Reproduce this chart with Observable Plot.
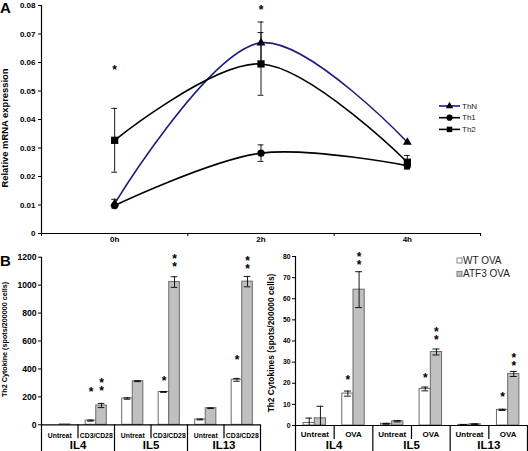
<!DOCTYPE html>
<html><head><meta charset="utf-8">
<script src="https://cdn.jsdelivr.net/npm/d3@7"></script>
<script src="https://cdn.jsdelivr.net/npm/@observablehq/plot@0.6"></script>
<style>
html,body{margin:0;padding:0;background:#fff;}
#wrap{position:relative;width:528px;height:451px;overflow:hidden;font-family:"Liberation Sans",Arial,sans-serif;}
</style></head><body><div id="wrap"></div>
<script>
// ---------- Panel A data ----------
const timepoints = ["0h", "2h", "4h"];
const seriesA = ["ThN", "Th1", "Th2"];
const thN = [0.0105, 0.0669, 0.0320];
const thNErr = [0.0015, 0.0073, 0];
const th1 = [0.0098, 0.0282, 0.0238];
const th1Err = [0, 0.0029, 0.0010];
const th2 = [0.0327, 0.0595, 0.0250];
const th2Err = [0.0112, 0.0110, 0.0024];
const yTicksA = [0, 0.01, 0.02, 0.03, 0.04, 0.05, 0.06, 0.07, 0.08];
const starTimeA = [0, 1];
const starLevelA = [0.0584, 0.0794];

// ---------- Panel B data ----------
const cytokines = ["IL4", "IL5", "IL13"];
const genotypes = ["WT OVA", "ATF3 OVA"];
// left (in vitro)
const treatLeft = ["Untreat", "CD3/CD28"];
const wtLeft = [0, 30, 188, 235, 38, 322];
const wtLeftErr = [0, 4, 5, 3, 3, 10];
const atfLeft = [3, 138, 312, 1022, 119, 1025];
const atfLeftErr = [0, 15, 3, 38, 2, 37];
const yTicksLeft = [0, 200, 400, 600, 800, 1000, 1200];
const starCatLeft = [1, 1, 3, 3, 5, 5];
const starGenoLeft = ["WT", "ATF3", "WT", "ATF3", "WT", "ATF3"];
const starCountLeft = [1, 2, 1, 2, 1, 2];
const starLevelLeft = [248, 279, 325, 1167, 472, 1156];
// right (OVA)
const treatRight = ["Untreat", "OVA"];
const wtRight = [1.2, 15.1, 0.8, 17.3, 0.3, 7.4];
const wtRightErr = [2.3, 1.2, 0.2, 0.9, 0.1, 0.3];
const atfRight = [3.4, 64.3, 2.0, 34.8, 0.6, 24.4];
const atfRightErr = [5.7, 8.5, 0.3, 1.4, 0.2, 1.2];
const yTicksRight = [0, 10, 20, 30, 40, 50, 60, 70, 80];
const starCatRight = [1, 1, 3, 3, 5, 5];
const starGenoRight = ["WT", "ATF3", "WT", "ATF3", "WT", "ATF3"];
const starCountRight = [1, 2, 1, 2, 1, 2];
const starLevelRight = [22.1, 78.6, 23.2, 43.1, 14.2, 30.6];

const FONT = "'Liberation Sans', Arial, Helvetica, sans-serif";
const wrap = document.getElementById("wrap");
function place(svg, left, top) {
  svg.style.position = "absolute";
  svg.style.left = left + "px";
  svg.style.top = top + "px";
  wrap.appendChild(svg);
}

// ---------- Panel A ----------
const valsA = [thN, th1, th2], errsA = [thNErr, th1Err, th2Err];
const rowsA = [];
seriesA.forEach((s, k) => timepoints.forEach((t, i) => rowsA.push({s, i, v: valsA[k][i], e: errsA[k][i]})));
const colorA = {ThN: "#1d1d7d", Th1: "#000", Th2: "#000"};
const symA = {ThN: "triangle", Th1: "circle", Th2: "square"};
const rA = {ThN: 3.3, Th1: 3.6, Th2: 4.1};
const errRowsA = rowsA.filter(d => d.e > 0);
const starsA = starTimeA.map((t, k) => ({i: t, v: starLevelA[k]}));

const plotA = Plot.plot({
  width: 528, height: 248,
  marginLeft: 41, marginRight: 48, marginTop: 5, marginBottom: 15,
  x: {domain: [-0.5, timepoints.length - 0.5]},
  y: {domain: [0, 0.08]},
  style: {background: "transparent", fontFamily: FONT, overflow: "visible", color: "#000"},
  marks: [
    Plot.ruleY([0], {stroke: "#000", strokeWidth: 1.2}),
    Plot.ruleX([-0.5], {stroke: "#000", strokeWidth: 1.2}),
    Plot.axisY({ticks: yTicksA, tickSize: 3, tickPadding: 3, tickFormat: d => d === 0 ? "0" : d.toFixed(2), fontSize: 8, fontWeight: "bold", label: null}),
    Plot.axisX({ticks: [-0.5, 0.5, 1.5, 2.5], tickSize: 3, tickFormat: () => "", label: null}),
    Plot.axisX({ticks: [0, 1, 2], tickSize: 0, tickPadding: 3, tickFormat: d => timepoints[d], fontSize: 8, fontWeight: "bold", label: null}),
    Plot.ruleX(errRowsA, {x: "i", y1: d => d.v - d.e, y2: d => d.v + d.e, stroke: "#000", strokeWidth: 0.9}),
    Plot.ruleY(errRowsA, {y: d => d.v + d.e, x1: d => d.i - 0.02, x2: d => d.i + 0.02, stroke: "#000", strokeWidth: 0.9}),
    Plot.ruleY(errRowsA, {y: d => d.v - d.e, x1: d => d.i - 0.02, x2: d => d.i + 0.02, stroke: "#000", strokeWidth: 0.9}),
    ...seriesA.map(s => Plot.line(rowsA.filter(d => d.s === s), {x: "i", y: "v", stroke: colorA[s], strokeWidth: 1.6, curve: "catmull-rom"})),
    ...["ThN", "Th2", "Th1"].map(s => Plot.dot(rowsA.filter(d => d.s === s), {x: "i", y: "v", symbol: symA[s], r: rA[s], fill: "#000", stroke: "none"})),
    Plot.text(starsA, {x: "i", y: "v", text: () => "*", fontSize: 12, fontWeight: "bold", dy: 3})
  ]
});
place(plotA, 0, 0);

// ---------- Panel B ----------
function panelB(cfg) {
  const w = 0.29;
  const rows = [];
  cfg.wt.forEach((v, i) => rows.push({i, g: "WT", v, e: cfg.wtErr[i]}));
  cfg.atf.forEach((v, i) => rows.push({i, g: "ATF3", v, e: cfg.atfErr[i]}));
  const lo = d => d.g === "WT" ? d.i + 0.5 - w : d.i + 0.5;
  const hi = d => d.g === "WT" ? d.i + 0.5 : d.i + 0.5 + w;
  const mid = d => (lo(d) + hi(d)) / 2;
  const withErr = rows.filter(d => d.e > 0);
  const stars = cfg.starCat.map((c, k) => ({i: c, g: cfg.starGeno[k], v: cfg.starLevel[k], n: cfg.starCount[k]}));
  const n = cfg.wt.length;
  const centers = d3.range(n).map(i => i + 0.5);
  const inner = d3.range(1, n, 2);
  const outer = d3.range(0, n + 1, 2);
  const yMax = cfg.yTicks[cfg.yTicks.length - 1];
  return Plot.plot({
    width: cfg.width, height: cfg.height,
    marginLeft: cfg.ml, marginRight: cfg.mr, marginTop: cfg.mt, marginBottom: cfg.mb,
    x: {domain: [0, n]},
    y: {domain: [0, yMax]},
    style: {background: "transparent", fontFamily: FONT, overflow: "visible", color: "#000"},
    marks: [
      Plot.rect(rows.filter(d => d.g === "WT"), {x1: lo, x2: hi, y1: () => 0, y2: "v", fill: "#fff", stroke: "#6b6b6b", strokeWidth: 1}),
      Plot.rect(rows.filter(d => d.g === "ATF3"), {x1: lo, x2: hi, y1: () => 0, y2: "v", fill: "#c0c0c0", stroke: "#6b6b6b", strokeWidth: 1}),
      Plot.ruleX(withErr, {x: mid, y1: d => Math.max(0, d.v - d.e), y2: d => d.v + d.e, stroke: "#000", strokeWidth: 0.9}),
      Plot.ruleY(withErr, {y: d => d.v + d.e, x1: d => mid(d) - 0.09, x2: d => mid(d) + 0.09, stroke: "#000", strokeWidth: 0.9}),
      Plot.ruleY(withErr.filter(d => d.v - d.e > 0), {y: d => d.v - d.e, x1: d => mid(d) - 0.09, x2: d => mid(d) + 0.09, stroke: "#000", strokeWidth: 0.9}),
      Plot.ruleY([0], {stroke: "#000", strokeWidth: 1.2}),
      Plot.ruleX([0], {stroke: "#000", strokeWidth: 1.2}),
      Plot.axisY({ticks: cfg.yTicks, tickSize: 3, tickPadding: 2, tickFormat: d => String(d), fontSize: cfg.tickFont, fontWeight: "bold", label: null}),
      Plot.axisX({ticks: inner, tickSize: 14, tickFormat: () => "", label: null, strokeWidth: 1.2}),
      Plot.axisX({ticks: outer, tickSize: cfg.mb + 1, tickFormat: () => "", label: null, strokeWidth: 1.2}),
      Plot.axisX({ticks: centers, tickSize: 0, tickPadding: cfg.pad1, tickFormat: d => cfg.treat[Math.floor(d) % 2], fontSize: cfg.rowFont, fontWeight: "bold", label: null}),
      Plot.axisX({ticks: inner, tickSize: 0, tickPadding: cfg.pad2, tickFormat: d => cytokines[(d - 1) / 2], fontSize: 11.5, fontWeight: "bold", label: null}),
      Plot.text(stars, {x: mid, y: "v", text: d => Array(d.n).fill("*").join("\n"), lineHeight: 0.66, fontSize: 12, fontWeight: "bold", dy: 3})
    ]
  });
}

const plotBL = panelB({
  wt: wtLeft, wtErr: wtLeftErr, atf: atfLeft, atfErr: atfLeftErr, treat: treatLeft,
  yTicks: yTicksLeft, starCat: starCatLeft, starGeno: starGenoLeft, starLevel: starLevelLeft, starCount: starCountLeft,
  width: 265, height: 206, ml: 41, mr: 5, mt: 11.7, mb: 26.7,
  tickFont: 8.6, rowFont: 6.8, pad1: 8.4, pad2: 16.4
});
place(plotBL, 0, 245);

const plotBR = panelB({
  wt: wtRight, wtErr: wtRightErr, atf: atfRight, atfErr: atfRightErr, treat: treatRight,
  yTicks: yTicksRight, starCat: starCatRight, starGeno: starGenoRight, starLevel: starLevelRight, starCount: starCountRight,
  width: 266, height: 206, ml: 33, mr: 1, mt: 11, mb: 26,
  tickFont: 6.8, rowFont: 8, pad1: 5.4, pad2: 15.2
});
place(plotBR, 262, 245);

// ---------- overlay: panel letters, axis titles, legends ----------
const ov = d3.create("svg").attr("width", 528).attr("height", 451)
  .style("position", "absolute").style("left", "0px").style("top", "0px")
  .style("font-family", FONT).style("pointer-events", "none");
ov.append("text").attr("x", 0).attr("y", 13).attr("font-size", 15).attr("font-weight", "bold").text("A");
ov.append("text").attr("x", 0).attr("y", 266).attr("font-size", 15).attr("font-weight", "bold").text("B");
function vlabel(x, y, size, txt) {
  ov.append("text").attr("transform", `translate(${x},${y}) rotate(-90)`)
    .attr("text-anchor", "middle").attr("dominant-baseline", "central")
    .attr("font-size", size).attr("font-weight", "bold").text(txt);
}
vlabel(4.8, 128, 9.4, "Relative mRNA expression");
vlabel(4.6, 339.5, 7.2, "Th2 Cytokine (spots/200000 cells)");
vlabel(271, 343, 8.4, "Th2 Cytokines (spots/200000 cells)");

// legend A
const legA = ov.append("g");
seriesA.forEach((s, k) => {
  const y = 106 + k * 11.7;
  legA.append("line").attr("x1", 439).attr("x2", 460).attr("y1", y).attr("y2", y).attr("stroke", colorA[s]).attr("stroke-width", 1.6);
  legA.append("path").attr("transform", `translate(449.5,${y})`)
    .attr("d", d3.symbol(s === "ThN" ? d3.symbolTriangle : s === "Th1" ? d3.symbolCircle : d3.symbolSquare, s === "ThN" ? 24 : 30)())
    .attr("fill", "#000");
  legA.append("text").attr("x", 462).attr("y", y).attr("dominant-baseline", "central").attr("font-size", 8).attr("fill", "#222").text(s);
});
// legend B
const legB = ov.append("g");
genotypes.forEach((g, k) => {
  const y = 260.5 + k * 13.3;
  legB.append("rect").attr("x", 457).attr("y", y - 2.5).attr("width", 5).attr("height", 5)
    .attr("fill", k === 0 ? "#fff" : "#c0c0c0").attr("stroke", "#6b6b6b").attr("stroke-width", 0.8);
  legB.append("text").attr("x", 463).attr("y", y).attr("dominant-baseline", "central").attr("font-size", 10).attr("fill", "#222").text(g);
});
wrap.appendChild(ov.node());
</script>
</body></html>
